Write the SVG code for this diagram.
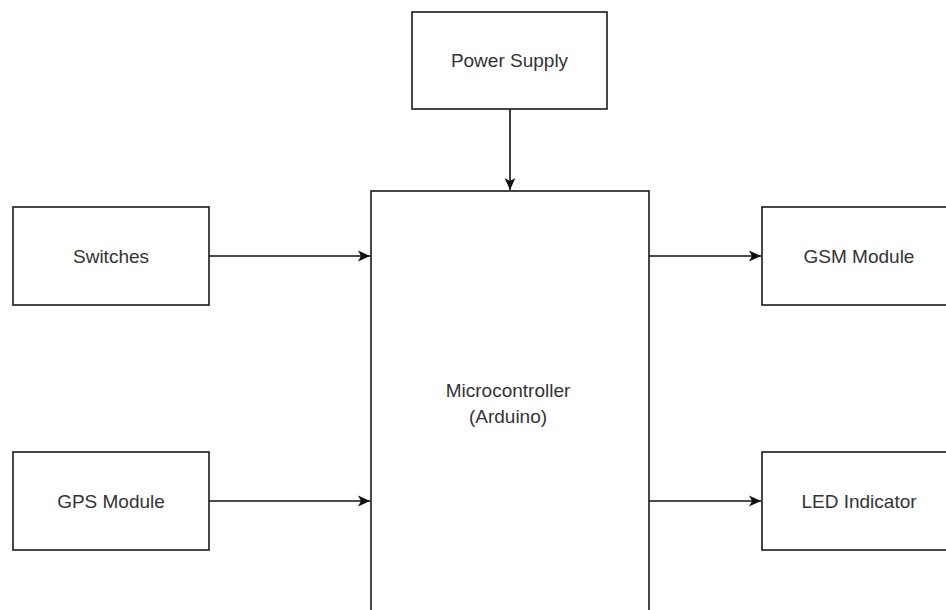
<svg xmlns="http://www.w3.org/2000/svg" width="946" height="610" viewBox="0 0 946 610">
<style>
.box{fill:#ffffff;stroke:#1a1a1a;stroke-width:1.6}
.lbl{font-family:"Liberation Sans",Arial,sans-serif;font-size:19px;fill:#333333;text-anchor:middle}
.edge{fill:none;stroke:#111111;stroke-width:1.6}
</style>
<defs>
<marker id="arr" viewBox="0 0 10 10" refX="10" refY="5" markerWidth="12" markerHeight="12" markerUnits="userSpaceOnUse" orient="auto">
<path d="M0,0.5 L10,5 L0,9.5 L2.5,5 Z" fill="#111111"/>
</marker>
</defs>
<rect width="946" height="610" fill="#ffffff"/>
<g id="power">
<rect class="box" x="412" y="12" width="195" height="97"/>
<text class="lbl" x="509.5" y="67">Power Supply</text>
</g>
<g id="mcu">
<rect class="box" x="371" y="191" width="278" height="440"/>
<text class="lbl" x="508" y="397">Microcontroller</text>
<text class="lbl" x="508" y="423">(Arduino)</text>
</g>
<g id="switches">
<rect class="box" x="13" y="207" width="196" height="98"/>
<text class="lbl" x="111" y="262.5">Switches</text>
</g>
<g id="gps">
<rect class="box" x="13" y="452" width="196" height="98"/>
<text class="lbl" x="111" y="507.5">GPS Module</text>
</g>
<g id="gsm">
<rect class="box" x="762" y="207" width="196" height="98"/>
<text class="lbl" x="859" y="262.5">GSM Module</text>
</g>
<g id="led">
<rect class="box" x="762" y="452" width="196" height="98"/>
<text class="lbl" x="859" y="507.5">LED Indicator</text>
</g>
<g id="connectors">
<path class="edge" d="M510,109 L510,190" marker-end="url(#arr)"/>
<path class="edge" d="M209,256 L370,256" marker-end="url(#arr)"/>
<path class="edge" d="M209,501 L370,501" marker-end="url(#arr)"/>
<path class="edge" d="M649,256 L761,256" marker-end="url(#arr)"/>
<path class="edge" d="M649,501 L761,501" marker-end="url(#arr)"/>
</g>
</svg>
